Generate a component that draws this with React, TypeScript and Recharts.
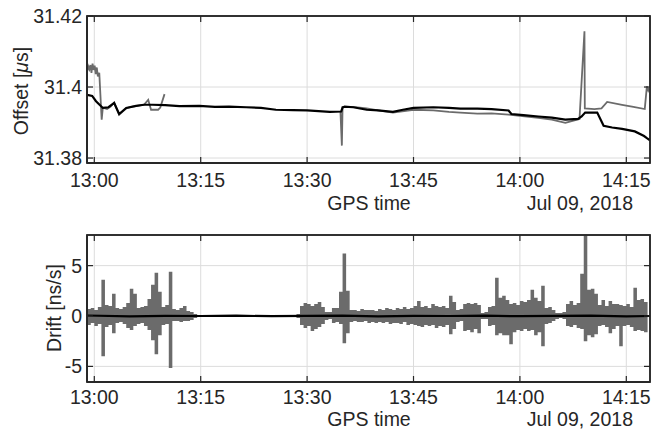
import React from 'react';
import { ComposedChart, Line, Area, XAxis, YAxis, CartesianGrid, ReferenceArea } from 'recharts';

// time is minutes after 13:00 GPS time, Jul 09 2018
const timeTicks = [0, 15, 30, 45, 60, 75];
const timeTickLabels = ['13:00', '13:15', '13:30', '13:45', '14:00', '14:15'];
const timeDomain = [-1.03, 78.34];

const offsetTicks = [31.38, 31.4, 31.42];
const offsetTickLabels = ['31.38', '31.4', '31.42'];
const offsetDomain = [31.3786, 31.42];

const driftTicks = [-5, 0, 5];
const driftTickLabels = ['-5', '0', '5'];
const driftDomain = [-6.55, 8.04];

// offset [us], black trace
const offsetBlackTimes = [
  -1.0, -0.3, 0.24, 1.2, 2.0, 2.8, 3.5, 4.5, 5.9, 7.0,
  8.2, 10, 12, 14.8, 17, 19, 21.4, 23.5, 25.6, 28,
  30, 33.2, 34.8, 35.0, 35.3, 36.5, 38.4, 40, 42.1, 43.5,
  45, 47.8, 50, 51.6, 54, 56, 58.4, 58.8, 60.5, 62.6,
  64.5, 66.4, 68.2, 68.7, 69.2, 70.9, 71.8, 73, 74.4, 76.2,
  77.5, 77.9, 78.34,
];
const offsetBlackValues = [
  31.3978, 31.3975, 31.396, 31.3941, 31.3943, 31.3955, 31.3924, 31.3941, 31.3947, 31.395,
  31.395, 31.3949, 31.3946, 31.3947, 31.3944, 31.3945, 31.3943, 31.3941, 31.3936, 31.3935,
  31.3934, 31.393, 31.3931, 31.3942, 31.3945, 31.3943, 31.3936, 31.3934, 31.393, 31.3936,
  31.3941, 31.3943, 31.3941, 31.3939, 31.3939, 31.3938, 31.3934, 31.3924, 31.3921, 31.3917,
  31.3914, 31.3908, 31.391, 31.3917, 31.3928, 31.3928, 31.3891, 31.3886, 31.3882, 31.3875,
  31.3862, 31.3856, 31.385,
];

// offset [us], gray trace (null = no data)
const offsetGrayTimes = [
  -1.0, -0.85, -0.7, -0.55, -0.4, -0.25, -0.1, 0.05, 0.2, 0.35,
  0.5, 0.7, 1.04, 1.2, 1.8, 2.3, 2.8, 3.5, 4.5, 5.2,
  6.0, 7.0, 7.6, 8.0, 9.0, 9.3, 9.9, 20, 34.7, 34.9,
  35.0, 36.5, 38.4, 40, 42.1, 45, 47.8, 50, 51.6, 54,
  56, 58.4, 60, 62.6, 64.5, 66.4, 68.4, 69.1, 69.15, 70.5,
  71.5, 72.3, 74.4, 76, 77.6, 77.9, 78.1, 78.34,
];
const offsetGrayValues = [
  31.4045, 31.4058, 31.405, 31.4062, 31.404, 31.4066, 31.4048, 31.406, 31.4036, 31.4055,
  31.403, 31.404, 31.3908, 31.3942, 31.3938, 31.3945, 31.3956, 31.3922, 31.394, 31.3944,
  31.3947, 31.395, 31.3964, 31.3936, 31.3936, 31.3942, 31.398, null, 31.3931, 31.3835,
  31.3944, 31.3944, 31.394, 31.3934, 31.3928, 31.3936, 31.3934, 31.393, 31.3928, 31.3925,
  31.3926, 31.3922, 31.3919, 31.3913, 31.3908, 31.3899, 31.391, 31.4157, 31.394, 31.3938,
  31.394, 31.3958, 31.395, 31.3944, 31.3938, 31.4002, 31.399, 31.4,
];

// drift [ns/s], gray trace: high / low per half-minute bin from -1 min
const driftBinStart = -1;
const driftBinStep = 0.5;
const driftHigh = [
  0.7, 0.8, 0.6, 0.9, 3.6, 1.1, 1.0, 2.2, 0.8, 0.7,
  0.9, 1.3, 2.7, 2.2, 0.8, 0.9, 1.0, 1.7, 3.1, 4.3,
  2.4, 0.9, 1.1, 4.4, 0.7, 0.6, 0.8, 1.0, 0.5, 0.4,
  0.2, 0.1, 0.1, 0.1, 0.1, 0.1, 0.1, 0.1, 0.1, 0.1,
  0.1, 0.1, 0.1, 0.1, 0.1, 0.1, 0.1, 0.1, 0.1, 0.1,
  0.1, 0.1, 0.1, 0.1, 0.1, 0.1, 0.1, 0.1, 0.1, 0.2,
  1.0, 1.3, 1.2, 1.0, 1.2, 1.4, 0.9, 0.4, 0.4, 0.8,
  0.8, 2.4, 6.2, 2.5, 0.6, 0.6, 0.5, 0.7, 0.6, 0.6,
  0.6, 0.5, 0.7, 0.6, 0.8, 0.7, 0.6, 0.8, 0.7, 0.9,
  0.7, 0.8, 1.0, 1.5, 0.9, 1.0, 0.8, 1.2, 1.0, 0.9,
  1.0, 0.8, 2.0, 1.4, 0.6, 0.7, 1.2, 1.3, 1.2, 1.3,
  1.1, 0.3, 0.4, 0.9, 1.0, 3.8, 1.8, 2.0, 1.6, 1.2,
  1.3, 1.1, 1.5, 1.4, 1.6, 2.6, 1.8, 1.5, 3.0, 0.8,
  0.9, 0.6, 0.3, 0.3, 0.4, 1.2, 1.5, 1.1, 1.3, 4.2,
  8.0, 2.6, 2.7, 2.2, 1.1, 1.6, 1.0, 1.5, 1.2, 1.2,
  1.1, 1.0, 1.2, 0.9, 2.8, 1.6, 1.7, 1.4, 1.5,
];
const driftLow = [
  -0.9, -0.7, -1.0, -0.8, -4.0, -1.1, -0.9, -1.7, -0.7, -0.6,
  -0.8, -1.2, -1.4, -1.0, -0.8, -0.7, -1.0, -1.4, -2.4, -3.8,
  -1.9, -0.9, -0.8, -5.15, -0.5, -0.5, -0.6, -0.5, -0.5, -0.4,
  -0.2, -0.1, -0.1, -0.1, -0.1, -0.1, -0.1, -0.1, -0.1, -0.1,
  -0.1, -0.1, -0.1, -0.1, -0.1, -0.1, -0.1, -0.1, -0.1, -0.1,
  -0.1, -0.1, -0.1, -0.1, -0.1, -0.1, -0.1, -0.1, -0.1, -0.2,
  -0.9, -1.2, -1.0, -1.5, -1.3, -1.1, -0.8, -0.4, -0.3, -0.7,
  -0.6, -0.8, -2.7, -1.7, -0.6, -0.5, -0.6, -0.6, -0.5, -0.7,
  -0.6, -0.7, -0.6, -0.7, -0.6, -0.8, -0.7, -0.7, -0.8, -0.6,
  -0.9, -0.8, -0.9, -1.0, -1.1, -0.9, -1.0, -0.9, -1.2, -1.0,
  -1.1, -0.9, -1.8, -1.3, -0.6, -0.5, -1.5, -1.4, -1.6, -1.3,
  -1.7, -0.3, -0.3, -1.0, -0.9, -1.9, -1.7, -1.9, -1.9, -2.8,
  -1.6, -1.4, -1.5, -1.3, -1.5, -1.4, -1.9, -1.6, -3.0, -0.8,
  -0.7, -0.5, -0.3, -0.2, -0.3, -1.0, -1.1, -0.9, -1.2, -1.3,
  -2.5, -1.9, -2.1, -1.8, -1.0, -0.9, -1.1, -1.7, -1.3, -1.0,
  -3.0, -1.0, -0.9, -1.1, -1.5, -1.4, -1.5, -1.6, -5.6,
];

// drift [ns/s], black trace
const driftBlackTimes = [-1.03, 5, 10, 15, 20, 25, 30, 35, 40, 45, 50, 55, 60, 65, 70, 75, 78.34];
const driftBlackValues = [0.05, -0.03, 0.02, 0, 0.03, -0.02, 0.01, 0.04, -0.03, 0.02, 0, 0.03, -0.02, 0.01, 0.04, -0.03, 0];

const zip = (ts: number[], vs: (number | null)[]) => ts.map((t, i) => ({ t, v: vs[i] }));
const offsetBlack = zip(offsetBlackTimes, offsetBlackValues);
const offsetGray = zip(offsetGrayTimes, offsetGrayValues);
const driftBlack = zip(driftBlackTimes, driftBlackValues);
// ranged rows [low, high] per bin, drawn as a stepped band
const driftGray = driftHigh.map((hi, i) => ({ t: driftBinStart + i * driftBinStep, r: [driftLow[i], hi] }));

const FONT = '"Liberation Sans", Arial, Helvetica, sans-serif';
const INK = '#262626';
const GRAY = '#6b6b6b';
const axisLine = { stroke: INK, strokeWidth: 1.5 };
const tickLine = { stroke: INK, strokeWidth: 1.2 };
const tickFont = { fill: INK, fontSize: 19.5, fontFamily: FONT };
const TICK_PX = 6;

// plot rectangle shared by both panels (chart is 651 wide, y-axis 87 wide, right margin 1)
const PLOT_LEFT = 87;
const PLOT_RIGHT = 650;
const PLOT_H = 147;

const timeLabel = (v: number) => timeTickLabels[timeTicks.indexOf(v)] ?? '';

type PanelProps = {
  height: number;
  top: number;
  xAxisHeight: number;
  xTickMargin: number;
  domain: number[];
  ticks: number[];
  tickLabels: string[];
  children: React.ReactNode;
};

const Panel = ({ height, top, xAxisHeight, xTickMargin, domain, ticks, tickLabels, children }: PanelProps) => {
  const [x0, x1] = timeDomain;
  const [y0, y1] = domain;
  // top and right sides of the box, with inward ticks, matching the plot rectangle
  const sx = (t: number) => PLOT_LEFT + ((t - x0) / (x1 - x0)) * (PLOT_RIGHT - PLOT_LEFT);
  const sy = (v: number) => top + ((y1 - v) / (y1 - y0)) * PLOT_H;
  return (
    <div style={{ position: 'relative', width: 651, height }}>
      <ComposedChart width={651} height={height} margin={{ top, right: 1, left: 0, bottom: 0 }}>
        <CartesianGrid stroke="#dcdcdc" strokeWidth={1} />
        <XAxis
          dataKey="t" type="number" domain={timeDomain} ticks={timeTicks} allowDataOverflow interval={0}
          tickFormatter={timeLabel} height={xAxisHeight} tickSize={-TICK_PX} tickMargin={xTickMargin}
          axisLine={axisLine} tickLine={tickLine} tick={tickFont}
        />
        <YAxis
          type="number" domain={domain} ticks={ticks} allowDataOverflow interval={0} width={87}
          tickFormatter={(v: number) => tickLabels[ticks.indexOf(v)] ?? ''} tickSize={-TICK_PX} tickMargin={11}
          axisLine={axisLine} tickLine={tickLine} tick={tickFont}
        />
        {children}
        <ReferenceArea x1={x0} x2={x1} y1={y0} y2={y1} fill="none" fillOpacity={0} stroke={INK} strokeWidth={1.5} ifOverflow="visible" />
      </ComposedChart>
      <svg width={651} height={height} style={{ position: 'absolute', left: 0, top: 0, pointerEvents: 'none' }}>
        <g stroke={INK} fill="none">
          <rect x={PLOT_LEFT} y={top} width={PLOT_RIGHT - PLOT_LEFT} height={PLOT_H} strokeWidth={1.5} />
          {timeTicks.map((t) => (
            <line key={`xt${t}`} x1={sx(t)} x2={sx(t)} y1={top} y2={top + TICK_PX} strokeWidth={1.2} />
          ))}
          {ticks.map((v) => (
            <line key={`yt${v}`} x1={PLOT_RIGHT} x2={PLOT_RIGHT - TICK_PX} y1={sy(v)} y2={sy(v)} strokeWidth={1.2} />
          ))}
        </g>
      </svg>
    </div>
  );
};

export default function App() {
  return (
    <div style={{ position: 'absolute', left: 0, top: 0, width: 651, height: 432, background: '#fff', fontFamily: FONT }}>
      <div style={{ position: 'absolute', left: 0, top: 0 }}>
        <Panel height={220} top={16} xAxisHeight={57} xTickMargin={16} domain={offsetDomain} ticks={offsetTicks} tickLabels={offsetTickLabels}>
          <Line data={offsetGray} dataKey="v" stroke={GRAY} strokeWidth={1.8} dot={false} activeDot={false} isAnimationActive={false} />
          <Line data={offsetBlack} dataKey="v" stroke="#000" strokeWidth={2.2} dot={false} activeDot={false} isAnimationActive={false} />
        </Panel>
      </div>
      <div style={{ position: 'absolute', left: 0, top: 220 }}>
        <Panel height={212} top={15} xAxisHeight={50} xTickMargin={14} domain={driftDomain} ticks={driftTicks} tickLabels={driftTickLabels}>
          <Area data={driftGray} dataKey="r" type="stepAfter" fill={GRAY} fillOpacity={1} stroke="none" dot={false} activeDot={false} isAnimationActive={false} />
          <Line data={driftBlack} dataKey="v" stroke="#000" strokeWidth={2.2} dot={false} activeDot={false} isAnimationActive={false} />
        </Panel>
      </div>
      <svg width={651} height={432} style={{ position: 'absolute', left: 0, top: 0, pointerEvents: 'none' }}>
        <g fill={INK} fontSize={19.5} fontFamily={FONT}>
          <text transform="translate(28,91) rotate(-90)" textAnchor="middle">
            Offset [<tspan fontStyle="italic">μ</tspan>s]
          </text>
          <text x={369} y={210} textAnchor="middle">GPS time</text>
          <text x={633} y={210} textAnchor="end">Jul 09, 2018</text>
          <text transform="translate(61,308) rotate(-90)" textAnchor="middle">Drift [ns/s]</text>
          <text x={369} y={426} textAnchor="middle">GPS time</text>
          <text x={633} y={426} textAnchor="end">Jul 09, 2018</text>
        </g>
      </svg>
    </div>
  );
}
